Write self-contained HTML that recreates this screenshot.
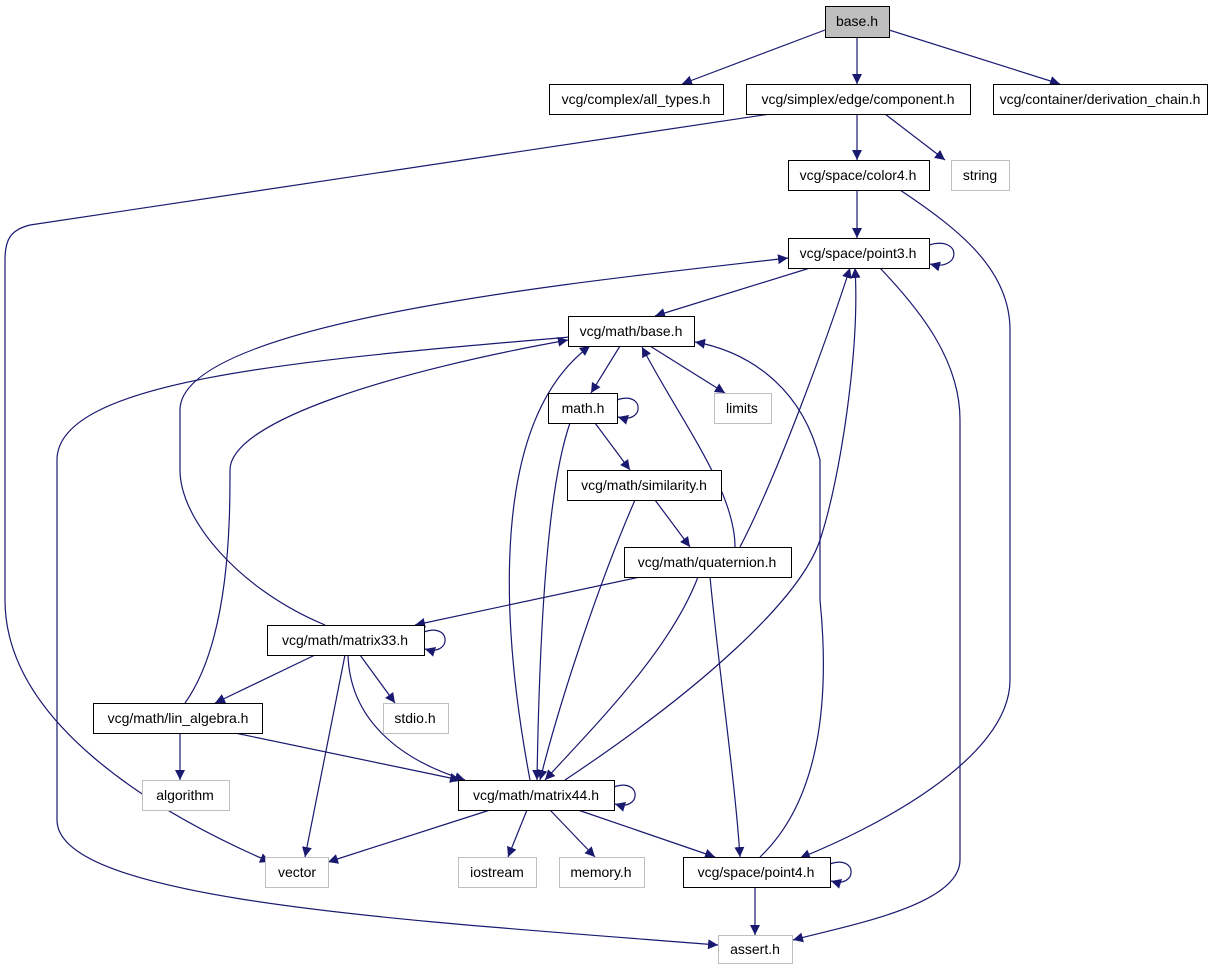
<!DOCTYPE html>
<html><head><meta charset="utf-8"><style>
html,body{margin:0;padding:0;background:#fff;}
svg{display:block;}
text{font-family:"Liberation Sans",sans-serif;font-size:14px;text-anchor:middle;fill:#000;}
</style></head><body>
<svg width="1225" height="968" viewBox="0 0 1225 968" xmlns="http://www.w3.org/2000/svg">
<defs><marker id="a" viewBox="0 0 10 10" refX="10" refY="5" markerWidth="10" markerHeight="10" markerUnits="userSpaceOnUse" orient="auto"><path d="M0,0 L10,5 L0,10 z" fill="#191970"/></marker></defs>
<g fill="none" stroke="#191970" stroke-width="1.2" marker-end="url(#a)">
<path d="M825,30 L682,84"/>
<path d="M857,37 L857,84"/>
<path d="M889,30 L1060,84"/>
<path d="M770,114 L30,225 C10,230 5,240 5,260 L5,600 C5,720 150,810 270,862"/>
<path d="M857,114 L857,160"/>
<path d="M885,114 L945,160"/>
<path d="M857,190 L857,238"/>
<path d="M900,190 C960,230 1010,270 1010,330 L1010,680 C1010,760 870,830 800,858"/>
<path d="M929,245 C962,235 962,272 930,264"/>
<path d="M810,268 L655,316"/>
<path d="M880,268 C920,310 960,360 960,420 L960,860 C960,905 850,925 793,940"/>
<path d="M620,346 L591,393"/>
<path d="M650,346 L725,393"/>
<path d="M570,337 C300,360 57,380 57,460 L57,820 C57,900 400,920 718,945"/>
<path d="M617,400 C645,390 645,425 618,417"/>
<path d="M595,423 L630,470"/>
<path d="M570,423 C550,480 540,600 537,780"/>
<path d="M655,500 L690,547"/>
<path d="M635,500 C600,580 560,700 540,780"/>
<path d="M735,547 C735,490 680,420 642,347"/>
<path d="M740,547 C780,470 830,330 850,268"/>
<path d="M640,577 L415,625"/>
<path d="M698,577 C670,650 600,720 545,780"/>
<path d="M710,577 C720,680 735,780 740,857"/>
<path d="M424,632 C452,622 452,657 425,649"/>
<path d="M325,625 C240,590 180,520 180,470 L180,410 C180,320 600,280 788,258"/>
<path d="M315,655 L215,703"/>
<path d="M360,655 L395,703"/>
<path d="M345,655 L305,857"/>
<path d="M348,655 C350,720 400,760 465,780"/>
<path d="M185,703 C230,640 230,520 230,470 C230,420 400,370 568,340"/>
<path d="M180,733 L180,780"/>
<path d="M235,733 L460,780"/>
<path d="M614,787 C642,777 642,812 615,804"/>
<path d="M530,780 C500,620 490,420 590,346"/>
<path d="M565,780 C700,690 800,600 820,540 C840,480 860,350 855,268"/>
<path d="M490,810 L328,862"/>
<path d="M527,810 L508,857"/>
<path d="M550,810 L595,857"/>
<path d="M578,810 L715,857"/>
<path d="M830,864 C858,854 858,889 831,881"/>
<path d="M760,857 C820,800 830,700 820,600 L820,460 C800,380 740,350 695,342"/>
<path d="M755,887 L755,935"/>
</g>
<g stroke-width="1">
<rect x="825.5" y="6.5" width="64" height="31" fill="#bfbfbf" stroke="#000"/>
<g fill="#fff" stroke="#000">
<rect x="549.5" y="84.5" width="174" height="30"/>
<rect x="746.5" y="84.5" width="224" height="30"/>
<rect x="993.5" y="84.5" width="214" height="30"/>
<rect x="788.5" y="160.5" width="141" height="30"/>
<rect x="788.5" y="238.5" width="141" height="30"/>
<rect x="568.5" y="316.5" width="126" height="30"/>
<rect x="548.5" y="393.5" width="69" height="30"/>
<rect x="567.5" y="470.5" width="154" height="30"/>
<rect x="624.5" y="547.5" width="167" height="30"/>
<rect x="267.5" y="625.5" width="157" height="30"/>
<rect x="93.5" y="703.5" width="169" height="30"/>
<rect x="458.5" y="780.5" width="156" height="30"/>
<rect x="683.5" y="857.5" width="147" height="30"/>
</g>
<g fill="#fff" stroke="#bfbfbf">
<rect x="951.5" y="160.5" width="58" height="30"/>
<rect x="714.5" y="393.5" width="57" height="30"/>
<rect x="383.5" y="703.5" width="65" height="30"/>
<rect x="142.5" y="780.5" width="87" height="30"/>
<rect x="265.5" y="857.5" width="63" height="30"/>
<rect x="458.5" y="857.5" width="78" height="30"/>
<rect x="559.5" y="857.5" width="85" height="30"/>
<rect x="718.5" y="935.5" width="74" height="28"/>
</g>
</g>
<text x="857" y="26">base.h</text>
<text x="636" y="104">vcg/complex/all_types.h</text>
<text x="858" y="104">vcg/simplex/edge/component.h</text>
<text x="1100" y="104">vcg/container/derivation_chain.h</text>
<text x="980" y="180">string</text>
<text x="858" y="180">vcg/space/color4.h</text>
<text x="858" y="258">vcg/space/point3.h</text>
<text x="631" y="336">vcg/math/base.h</text>
<text x="583" y="413">math.h</text>
<text x="742" y="413">limits</text>
<text x="644" y="490">vcg/math/similarity.h</text>
<text x="707" y="567">vcg/math/quaternion.h</text>
<text x="345" y="645">vcg/math/matrix33.h</text>
<text x="415" y="723">stdio.h</text>
<text x="178" y="723">vcg/math/lin_algebra.h</text>
<text x="185" y="800">algorithm</text>
<text x="536" y="800">vcg/math/matrix44.h</text>
<text x="297" y="877">vector</text>
<text x="497" y="877">iostream</text>
<text x="601" y="877">memory.h</text>
<text x="756" y="877">vcg/space/point4.h</text>
<text x="755" y="954">assert.h</text>
</svg>
</body></html>
